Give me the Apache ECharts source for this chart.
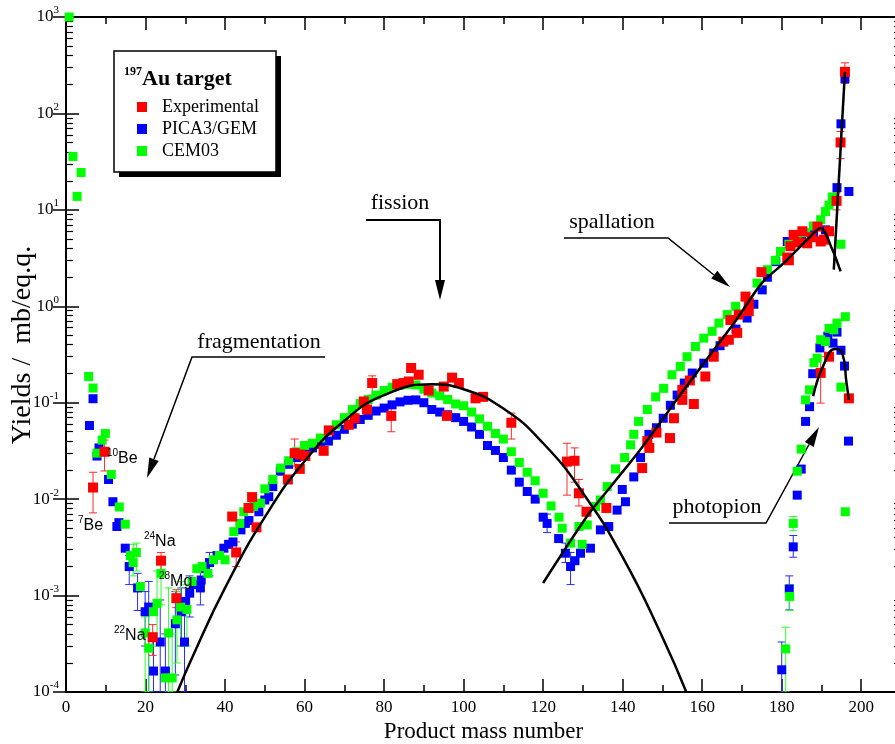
<!DOCTYPE html>
<html>
<head>
<meta charset="utf-8">
<script src="https://cdn.jsdelivr.net/npm/echarts@6/dist/echarts.min.js"></script>
<style>
  html, body { margin: 0; padding: 0; background: #fff; }
  #chart { width: 895px; height: 744px; }
</style>
</head>
<body>
<div id="chart"></div>
<script>
// measured yields, [mass number, yield]
const expData = [
  [6.8, 0.0132], [9.7, 0.031], [21.8, 3.7e-4], [23.9, 2.3e-3], [27.75, 9.4e-4],
  [41.8, 6.6e-3], [42.8, 2.8e-3], [45.9, 8.1e-3], [46.8, 0.0105], [47.9, 5.1e-3],
  [55.8, 0.016], [57.5, 0.030], [58.8, 0.0206], [58.9, 0.029], [60.2, 0.028],
  [64.8, 0.0317], [66.1, 0.0515], [71.1, 0.059], [72.6, 0.069], [74.9, 0.103],
  [75.7, 0.085], [77.0, 0.16], [81.8, 0.073], [83.3, 0.156], [84.9, 0.16],
  [86.2, 0.166], [86.8, 0.229], [88.7, 0.195], [91.2, 0.134], [95.0, 0.147],
  [95.8, 0.073], [97.1, 0.182], [98.8, 0.16], [103, 0.111], [104.9, 0.115],
  [112, 0.062], [126, 0.0245], [127.9, 0.025], [129, 0.0115], [130.9, 7.4e-3],
  [135.9, 8.1e-3], [144.9, 0.021], [146.2, 0.04], [146.7, 0.034], [148.5, 0.049],
  [151.9, 0.043], [152.9, 0.069], [155, 0.107], [155, 0.136], [156.9, 0.17],
  [157.9, 0.097], [160.8, 0.187], [162.9, 0.30], [165.3, 0.43], [166.7, 0.45],
  [167.1, 0.72], [168.8, 0.53], [169.2, 0.82], [170.9, 1.26], [171.7, 0.89],
  [171.7, 1.08], [174.9, 2.26], [181.4, 3.2], [181.8, 3.0], [182.2, 4.2],
  [183, 5.5], [184, 4.6], [185.2, 6.0], [186.4, 4.5], [187.5, 5.2], [189, 6.7],
  [189.8, 4.7], [190.6, 4.9], [191.9, 6.0], [193.8, 12.4], [194.8, 50], [195.9, 270],
  [189.8, 0.204], [191.9, 0.30], [196.9, 0.111]
];
// [mass number, low, high]
const expErr = [
  [6.8, 0.0072, 0.019], [9.7, 0.0196, 0.041], [21.8, 2.4e-4, 5e-4], [23.9, 1.8e-3, 2.8e-3],
  [27.75, 7.5e-4, 1.15e-3], [42.8, 2.0e-3, 3.6e-3], [57.5, 0.022, 0.042], [77.0, 0.12, 0.19],
  [81.8, 0.050, 0.095], [112, 0.042, 0.078], [126, 0.011, 0.038], [127.9, 0.015, 0.034],
  [129, 0.0085, 0.016], [189.8, 0.099, 0.30], [193.8, 10, 15], [194.8, 34, 65], [195.9, 205, 335]
];

const picaData = [
  [5.9, 0.058], [6.8, 0.11], [7.8, 0.028], [8.3, 0.034], [10.7, 0.016], [11.8, 9.4e-3],
  [12.8, 5.2e-3], [13.3, 5.7e-3], [14.9, 3.1e-3], [15.9, 2.0e-3], [18, 1.2e-3],
  [19.9, 6.8e-4], [20.8, 7.6e-4], [22, 1.65e-4], [23.7, 3.3e-4], [25, 1.65e-4],
  [27.5, 5.1e-4], [29, 6.8e-4], [29.8, 3.3e-4], [30, 8.7e-4], [31.1, 1.06e-3],
  [32, 1.3e-3], [33.8, 1.2e-3], [34, 1.45e-3], [35, 1.9e-3], [36.1, 2.2e-3], [38, 2.6e-3],
  [39.7, 3.1e-3], [40.9, 3.4e-3], [42, 3.6e-3], [44, 4.8e-3], [45.1, 5.6e-3], [46, 6e-3],
  [48.5, 7.4e-3], [50, 0.0098], [51, 0.0106], [52, 0.0135], [53.9, 0.0195], [56, 0.023],
  [58, 0.027], [60, 0.030], [62, 0.034], [64, 0.037], [66, 0.040], [68, 0.046], [70, 0.053],
  [72, 0.060], [74, 0.067], [76, 0.074], [78, 0.082], [80, 0.088], [82, 0.095], [84, 0.102],
  [86, 0.106], [88, 0.107], [90, 0.100], [92, 0.085], [94, 0.080], [96, 0.075], [98, 0.070],
  [100, 0.064], [102, 0.056], [104, 0.047], [106, 0.036], [108, 0.032], [110, 0.027],
  [112, 0.020], [114, 0.015], [116, 0.012], [118, 0.010], [120, 6.5e-3], [121, 5.6e-3],
  [123.9, 3.9e-3], [125.6, 2.75e-3], [126.9, 2.0e-3], [128, 2.3e-3], [129.4, 2.75e-3],
  [131.9, 3.1e-3], [134.4, 4.8e-3], [136.5, 5.2e-3], [138.6, 7.7e-3], [139.9, 0.0126],
  [140.7, 9.4e-3], [142.8, 0.017], [144.5, 0.027], [146.6, 0.047], [148.5, 0.055],
  [150.2, 0.069], [152, 0.094], [153.7, 0.12], [155.5, 0.16], [157.5, 0.203], [160.4, 0.257],
  [162.9, 0.327], [164.5, 0.39], [166.3, 0.45], [168.5, 0.58], [171.3, 0.755], [173, 1.05],
  [175.1, 1.48], [176.4, 2.0], [178.5, 2.9], [181.4, 4.7], [185, 5.3], [188, 5.6], [191, 6.2],
  [193.9, 17], [194.9, 78], [195.9, 229], [196.9, 15.5],
  [180, 1.7e-4], [181.9, 1.17e-3], [182.9, 3.2e-3], [183.9, 0.011], [184.9, 0.0205],
  [186, 0.064], [187, 0.091], [187.8, 0.2], [189.6, 0.37], [191.6, 0.49], [192.9, 0.415],
  [193.9, 0.54], [194.9, 0.35], [195.8, 0.24], [196.8, 0.040]
];
const picaErr = [
  [15.9, 1.3e-3, 2.6e-3], [18, 7e-4, 1.7e-3], [19.9, 3e-4, 1.1e-3], [20.8, 1e-4, 1.4e-3],
  [22, 1e-4, 4e-4], [23.7, 1e-4, 9e-4], [25, 1e-4, 4e-4], [27.5, 1.5e-4, 1.1e-3],
  [29, 3e-4, 1.2e-3], [29.8, 1e-4, 7e-4], [31.1, 6e-4, 1.6e-3], [33.8, 8e-4, 1.8e-3],
  [36.1, 1.6e-3, 2.8e-3], [121, 4.5e-3, 7e-3], [125.6, 2.2e-3, 3.5e-3], [126.9, 1.3e-3, 2.8e-3],
  [180, 1e-4, 3.3e-4], [181.9, 7.1e-4, 1.6e-3], [182.9, 2.5e-3, 4.2e-3]
];

const cemData = [
  [0.8, 1000], [1.75, 35.8], [2.8, 13.8], [3.8, 24.4],
  [5.7, 0.187], [6.8, 0.142], [7.8, 0.030], [9.1, 0.041], [9.9, 0.048], [11.4, 0.018],
  [13.4, 8.3e-3], [14.9, 5.5e-3], [16.2, 2.6e-3], [16.9, 2.2e-3], [17.7, 2.8e-3],
  [18.7, 1.24e-3], [19.9, 4.1e-4], [20.8, 2.85e-4], [22, 6.8e-4], [22.9, 8.3e-4],
  [23.9, 1.7e-3], [25, 1.4e-4], [25.8, 4.1e-4], [26.7, 1.4e-4], [27.9, 5.6e-4],
  [28.8, 7.6e-4], [30.4, 7.2e-4], [31.7, 1.4e-3], [32.9, 1.9e-3], [34.2, 2.0e-3],
  [35.7, 1.7e-3], [37.1, 2.35e-3], [38.6, 2.6e-3], [40, 2.35e-3], [42.2, 4.6e-3],
  [43.7, 5.6e-3], [44.7, 7.4e-3], [46, 8e-3], [47.2, 8.4e-3], [48.9, 9.1e-3], [50, 0.0128],
  [52, 0.016], [54, 0.021], [56, 0.025], [58, 0.031], [60, 0.036], [62, 0.038], [64, 0.043],
  [66, 0.052], [68, 0.059], [70, 0.070], [72, 0.085], [74, 0.098], [76, 0.108], [78, 0.120],
  [80, 0.134], [82, 0.145], [84, 0.152], [86, 0.155], [88, 0.153], [90, 0.138], [92, 0.126],
  [94, 0.118], [96, 0.108], [98, 0.097], [100, 0.093], [102, 0.080], [104, 0.068],
  [106, 0.057], [108, 0.048], [110, 0.042], [112, 0.031], [114, 0.024], [116, 0.019],
  [118, 0.0155], [120, 0.0115], [122, 8.5e-3], [124, 6.5e-3], [124.8, 5.0e-3],
  [126.9, 3.5e-3], [129, 5.2e-3], [129.8, 3.4e-3], [131.1, 5.4e-3], [133.2, 8.4e-3],
  [134.4, 9.8e-3], [136.1, 0.0135], [138.2, 0.0206], [140.5, 0.027], [142, 0.0366],
  [142.8, 0.047], [144, 0.064], [146.2, 0.085], [148.3, 0.115], [150.3, 0.141],
  [152.4, 0.195], [154.5, 0.238], [156.2, 0.30], [158.3, 0.383], [160.4, 0.467],
  [162.5, 0.55], [164.2, 0.67], [166.3, 0.82], [168.4, 1.0], [170.9, 1.26], [173.8, 1.74],
  [176.4, 2.4], [178.4, 3.0], [179.7, 3.7], [181.8, 4.4], [184, 5.2], [186, 5.8], [188, 6.8],
  [189.8, 7.9], [191, 9.6], [191.9, 11.2], [192.7, 13.6], [194.9, 4.4],
  [181, 2.8e-4], [182, 9.8e-4], [182.9, 5.6e-3], [183.9, 0.0195], [184.9, 0.033],
  [186, 0.107], [187, 0.136], [188.1, 0.26], [188.9, 0.29], [189.8, 0.45], [191, 0.43],
  [191.9, 0.59], [193.1, 0.57], [193.9, 0.67], [196, 0.78], [194.9, 0.145], [196, 7.4e-3]
];
const cemErr = [
  [16.9, 1.6e-3, 3.4e-3], [17.7, 1.8e-3, 3.5e-3], [19.9, 1e-4, 6e-4], [20.8, 1e-4, 7e-4],
  [22.9, 3e-4, 1.8e-3], [23.9, 8e-4, 2.5e-3], [25.8, 1e-4, 1.2e-3], [26.7, 1e-4, 4e-4],
  [27.9, 2e-4, 1.1e-3], [28.8, 3e-4, 1.4e-3], [30.4, 3e-4, 1.3e-3],
  [181, 1e-4, 4.7e-4], [182, 7e-4, 1.3e-3], [182.9, 4.7e-3, 6.6e-3]
];

// model curves drawn as black lines
const fissionCurve = [
  [28, 1e-4], [32, 2.4e-4], [40, 1.2e-3], [50, 6.5e-3], [60, 0.0247], [70, 0.065],
  [80, 0.12], [92, 0.155], [100, 0.138], [110, 0.087], [120, 0.038], [130, 0.0116],
  [140, 2.5e-3], [150, 3.7e-4], [156, 1e-4]
];
const spallationCurve = [
  [120, 1.35e-3], [131, 6.6e-3], [137, 0.0135], [145, 0.035], [156, 0.147], [168, 0.67],
  [175, 1.74], [180.5, 2.8], [186.4, 4.9], [189.8, 6.5], [192.7, 3.9], [194.8, 2.3]
];
const residueCurve = [[193.1, 2.4], [195.9, 270]];
const photopionCurve = [
  [187.9, 0.117], [190.6, 0.25], [193.5, 0.36], [195.2, 0.33], [196.3, 0.16], [196.9, 0.107]
];

const yTicks = [1e-4, 1e-3, 1e-2, 1e-1, 1, 10, 100, 1000];

(function () {
    const serif = 'Liberation Serif';
    const sans = '"Liberation Sans Narrow", "Liberation Sans"';
    const minorTicks = [];
    yTicks.slice(0, -1).forEach(function (d) {
        for (let k = 2; k <= 9; k++) minorTicks.push(k * d);
    });

    const myChart = echarts.init(document.getElementById('chart'));

    function errorBars(color) {
        return function (params, api) {
            const x = api.value(0);
            const lo = api.coord([x, api.value(1)]);
            const hi = api.coord([x, api.value(2)]);
            const w = 4;
            const st = { stroke: color, lineWidth: 1 };
            return {
                type: 'group',
                children: [
                    { type: 'line', shape: { x1: lo[0], y1: lo[1], x2: hi[0], y2: hi[1] }, style: st },
                    { type: 'line', shape: { x1: lo[0] - w, y1: lo[1], x2: lo[0] + w, y2: lo[1] }, style: st },
                    { type: 'line', shape: { x1: hi[0] - w, y1: hi[1], x2: hi[0] + w, y2: hi[1] }, style: st }
                ]
            };
        };
    }

    function isotope(x, y, mass, sym) {
        return {
            type: 'text', x: x, y: y, z: 20,
            style: {
                text: '{s|' + mass + '}{b|' + sym + '}', verticalAlign: 'middle',
                rich: {
                    s: { fontFamily: sans, fontSize: 10, verticalAlign: 'top', lineHeight: 10 },
                    b: { fontFamily: sans, fontSize: 16, lineHeight: 22 }
                }
            }
        };
    }

    function label(x, y, text) {
        return { type: 'text', x: x, y: y, style: { text: text, fontFamily: serif, fontSize: 22, fill: '#000', align: 'center', verticalAlign: 'middle' } };
    }

    const xBase = {
        type: 'value', min: 0, max: 210, interval: 20,
        axisLine: { lineStyle: { color: '#000', width: 2 } },
        axisTick: { inside: true, length: 13, lineStyle: { color: '#000', width: 1.5 } },
        minorTick: { show: true, splitNumber: 2, length: 7, lineStyle: { color: '#000', width: 1.5 } },
        splitLine: { show: false }
    };
    const yMajor = {
        type: 'log', min: 1e-4, max: 1000, logBase: 10,
        axisLine: { show: true, lineStyle: { color: '#000', width: 2 } },
        axisTick: { inside: true, length: 13, customValues: yTicks, lineStyle: { color: '#000', width: 1.5 } },
        splitLine: { show: false }
    };
    const yMinor = {
        type: 'log', min: 1e-4, max: 1000, logBase: 10,
        axisLine: { show: false },
        axisTick: { inside: true, length: 7, customValues: minorTicks, lineStyle: { color: '#000', width: 1.2 } },
        axisLabel: { show: false },
        splitLine: { show: false }
    };

    const option = {
        animation: false,
        grid: { left: 66, top: 17, width: 835, height: 675, containLabel: false, outerBoundsMode: 'none' },
        xAxis: [
            Object.assign({}, xBase, {
                position: 'bottom',
                name: 'Product mass number',
                nameLocation: 'middle',
                nameGap: 28,
                nameTextStyle: { fontFamily: serif, fontSize: 23, color: '#000', verticalAlign: 'top' },
                axisLabel: {
                    margin: 7, fontFamily: serif, fontSize: 17, color: '#000',
                    formatter: function (v) { return v % 20 === 0 && v <= 200 ? String(v) : ''; }
                }
            }),
            Object.assign({}, xBase, { position: 'top', axisLabel: { show: false } })
        ],
        yAxis: [
            Object.assign({}, yMajor, {
                position: 'left',
                axisLabel: {
                    margin: 7,
                    customValues: yTicks,
                    formatter: function (v) {
                        return '{b|10}{s|' + Math.round(Math.log10(v)) + '}';
                    },
                    rich: {
                        b: { fontFamily: serif, fontSize: 17, color: '#000', lineHeight: 24 },
                        s: { fontFamily: serif, fontSize: 11, color: '#000', verticalAlign: 'top', lineHeight: 11 }
                    }
                }
            }),
            Object.assign({}, yMajor, { position: 'right', axisLabel: { show: false } }),
            Object.assign({}, yMinor, { position: 'left' }),
            Object.assign({}, yMinor, { position: 'right' })
        ],
        legend: {
            orient: 'vertical',
            left: 132,
            top: 93,
            z: 30,
            itemWidth: 10,
            itemHeight: 10,
            itemGap: 4,
            icon: 'rect',
            selectedMode: false,
            data: ['Experimental', 'PICA3/GEM', 'CEM03'],
            textStyle: { fontFamily: serif, fontSize: 18, color: '#000', padding: [0, 0, 0, 10] }
        },
        series: [
            { name: 'PICA3/GEM err', type: 'custom', clip: true, renderItem: errorBars('#2a2aff'), data: picaErr, encode: { x: 0, y: [1, 2] }, z: 2 },
            { name: 'CEM03 err', type: 'custom', clip: true, renderItem: errorBars('#2aff2a'), data: cemErr, encode: { x: 0, y: [1, 2] }, z: 2 },
            { name: 'Experimental err', type: 'custom', clip: true, renderItem: errorBars('#ff2a2a'), data: expErr, encode: { x: 0, y: [1, 2] }, z: 2 },
            { name: 'PICA3/GEM', type: 'scatter', symbol: 'rect', symbolSize: 9, data: picaData, itemStyle: { color: '#0000ff', opacity: 1 }, z: 3 },
            { name: 'CEM03', type: 'scatter', symbol: 'rect', symbolSize: 9, data: cemData, itemStyle: { color: '#00ff00', opacity: 1 }, z: 3 },
            { name: 'Experimental', type: 'scatter', symbol: 'rect', symbolSize: 10, data: expData, itemStyle: { color: '#ff0000', opacity: 1 }, z: 3 },
            { type: 'line', data: fissionCurve, smooth: true, showSymbol: false, lineStyle: { color: '#000', width: 2.5 }, z: 4 },
            { type: 'line', data: spallationCurve, smooth: 0.3, showSymbol: false, lineStyle: { color: '#000', width: 2.5 }, z: 4 },
            { type: 'line', data: residueCurve, showSymbol: false, lineStyle: { color: '#000', width: 2.5 }, z: 4 },
            { type: 'line', data: photopionCurve, smooth: true, showSymbol: false, lineStyle: { color: '#000', width: 2.5 }, z: 4 }
        ],
        graphic: [
            // legend box with shadow
            { type: 'rect', z: 10, shape: { x: 119, y: 56, width: 162, height: 121 }, style: { fill: '#000' } },
            { type: 'rect', z: 11, shape: { x: 114, y: 51, width: 162, height: 121 }, style: { fill: '#fff', stroke: '#000', lineWidth: 1.5 } },
            {
                type: 'text', z: 12, x: 124, y: 79,
                style: {
                    text: '{s|197}{b|Au target}', verticalAlign: 'middle',
                    rich: {
                        s: { fontFamily: serif, fontSize: 12, fontWeight: 'bold', verticalAlign: 'top', lineHeight: 12, fill: '#000' },
                        b: { fontFamily: serif, fontSize: 22, fontWeight: 'bold', lineHeight: 26, fill: '#000' }
                    }
                }
            },
            // y axis title
            {
                type: 'text', x: 23, y: 345, rotation: Math.PI / 2,
                style: { text: 'Yields /  mb/eq.q.', fontFamily: serif, fontSize: 28, fill: '#000', align: 'center', verticalAlign: 'middle' }
            },
            // annotations
            label(400, 203, 'fission'),
            { type: 'polyline', shape: { points: [[366, 220], [440, 220], [440, 282]] }, style: { stroke: '#000', lineWidth: 2, fill: null } },
            { type: 'polygon', shape: { points: [[435, 280], [445, 280], [440, 300]] }, style: { fill: '#000' } },

            label(259, 342, 'fragmentation'),
            { type: 'polyline', shape: { points: [[325, 357], [192, 357], [154, 459]] }, style: { stroke: '#000', lineWidth: 1.5, fill: null } },
            { type: 'polygon', shape: { points: [[158.7, 461], [149.3, 457.5], [147, 478]] }, style: { fill: '#000' } },

            label(612, 222, 'spallation'),
            { type: 'polyline', shape: { points: [[564, 238], [668, 238], [714, 275]] }, style: { stroke: '#000', lineWidth: 1.5, fill: null } },
            { type: 'polygon', shape: { points: [[711.2, 278.5], [717.4, 270.7], [730, 287]] }, style: { fill: '#000' } },

            label(717, 507, 'photopion'),
            { type: 'polyline', shape: { points: [[669, 523], [766, 523], [809, 444.5]] }, style: { stroke: '#000', lineWidth: 1.5, fill: null } },
            { type: 'polygon', shape: { points: [[813.7, 446.9], [804.9, 442.1], [819, 427]] }, style: { fill: '#000' } },

            // isotope labels
            isotope(78, 526, '7', 'Be'),
            isotope(107, 459, '10', 'Be'),
            isotope(144, 542, '24', 'Na'),
            isotope(159, 582, '28', 'Mg'),
            isotope(114, 636, '22', 'Na')
        ]
    };

    myChart.setOption(option);
    window.addEventListener('resize', function () {
        myChart.resize();
    });
})();
</script>
</body>
</html>
